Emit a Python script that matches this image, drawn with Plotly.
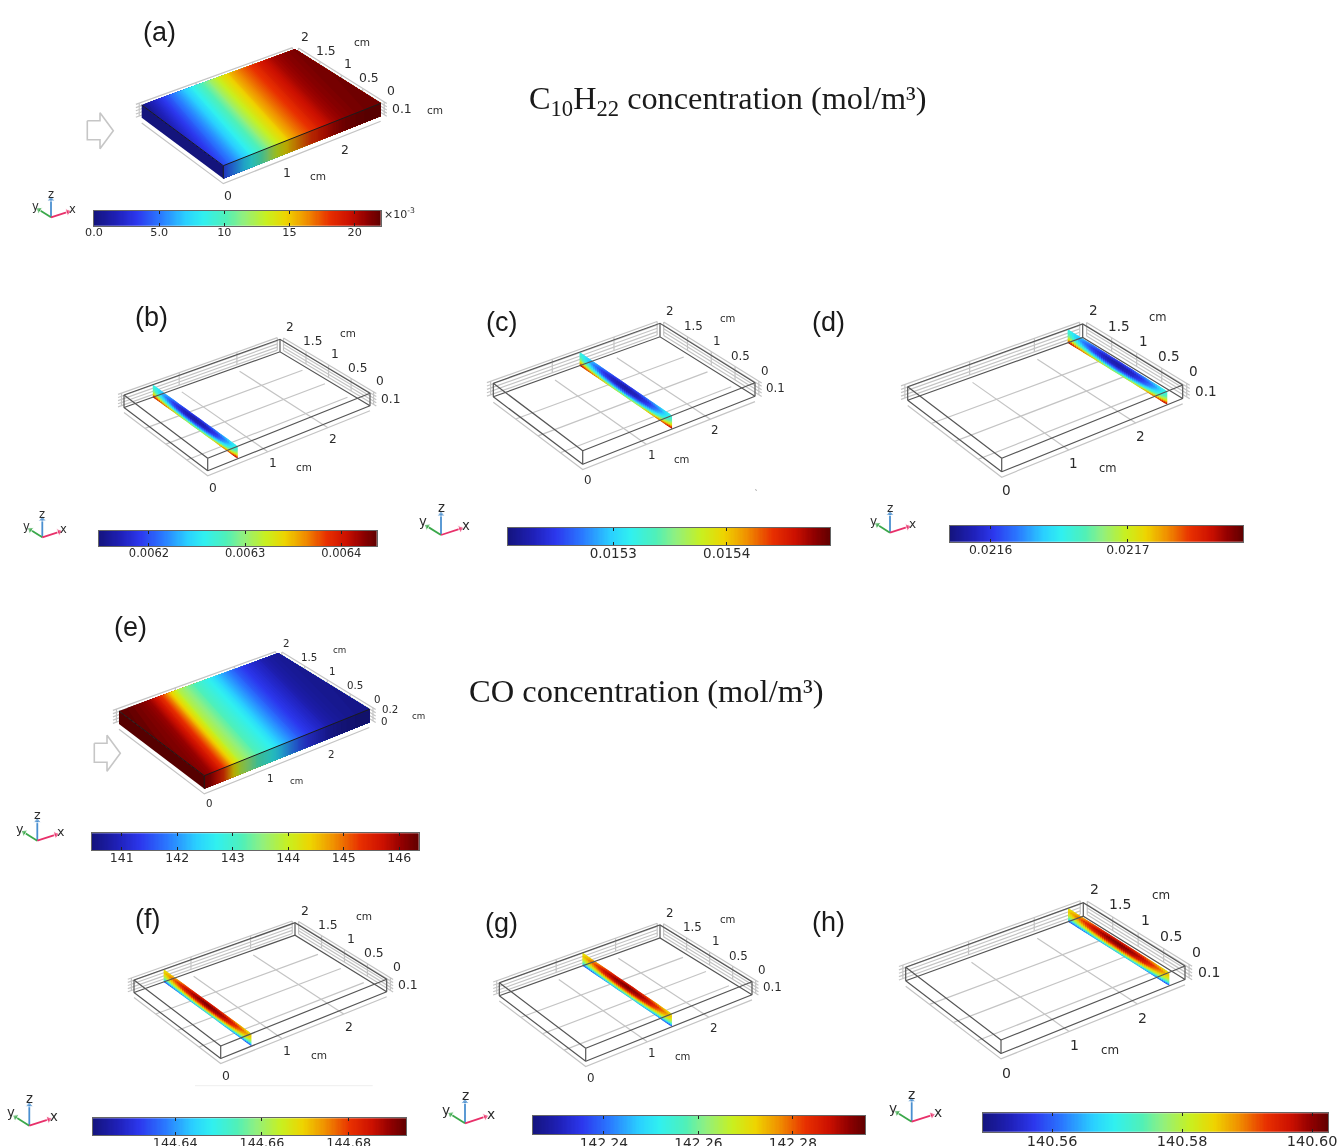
import numpy as np
import plotly.graph_objects as go

W, H = 1337, 1146

# ---------------------------- data ----------------------------
X_STATIONS = [0.0, 0.1, 0.2, 0.3, 0.4, 0.5, 0.6, 0.7, 0.8, 0.9, 1.0, 1.1, 1.2, 1.3,
              1.4, 1.5, 1.6, 1.7, 1.8, 1.9, 2.0, 2.1, 2.2, 2.3, 2.4, 2.5, 2.6, 2.7]
# surface concentration along x, read along the back edge (y=2) and the front edge (y=0)
C10H22_BACK = [.0004, .0011, .0020, .0029, .0038, .0047, .0056, .0066, .0076, .0086, .0097, .0108, .0119, .0130,
               .0141, .0150, .0159, .0167, .0174, .0181, .0187, .0193, .0199, .0205, .0209, .0212, .0214, .0216]
C10H22_FRONT = [.0038, .0047, .0056, .0066, .0076, .0086, .0097, .0108, .0119, .0130, .0141, .0150, .0159, .0167,
                .0174, .0181, .0187, .0193, .0199, .0205, .0209, .0212, .0214, .0216, .0217, .0218, .0219, .0219]
CO_BACK = [146.33, 146.30, 146.25, 146.20, 146.12, 146.00, 145.70, 145.35, 144.85, 144.25, 143.80, 143.55, 143.30, 143.10,
           142.90, 142.70, 142.45, 142.20, 141.95, 141.70, 141.50, 141.30, 141.15, 141.00, 140.88, 140.76, 140.68, 140.62]
CO_FRONT = [146.12, 146.00, 145.70, 145.35, 144.85, 144.25, 143.80, 143.55, 143.30, 143.10, 142.90, 142.70, 142.45, 142.20,
            141.95, 141.70, 141.50, 141.30, 141.15, 141.00, 140.88, 140.76, 140.68, 140.62, 140.58, 140.55, 140.53, 140.51]

SLICE_Y = [0, 0.25, 0.5, 0.75, 1, 1.25, 1.5, 1.75, 2]
SLICE_Z = [0.1, 0.075, 0.05, 0.025, 0.0]
# values as a fraction of each panel's colour range
C10H22_SLICE = [[.40, .32, .24, .18, .15, .18, .24, .32, .40],
                [.44, .26, .14, .08, .05, .08, .14, .26, .44],
                [.52, .33, .18, .10, .08, .10, .18, .33, .52],
                [.68, .50, .36, .28, .24, .28, .36, .50, .68],
                [.95, .82, .72, .62, .58, .62, .72, .82, .95]]
CO_SLICE = [[.62, .70, .78, .84, .86, .84, .78, .70, .62],
            [.68, .80, .90, .95, .98, .95, .90, .80, .68],
            [.60, .72, .84, .90, .92, .90, .84, .72, .60],
            [.46, .54, .62, .68, .70, .68, .62, .54, .46],
            [.14, .18, .24, .28, .30, .28, .24, .18, .14]]

X_TICKS = [0, 1, 2]
Y_TICKS = [0, 0.5, 1, 1.5, 2]
Y_TICK_TEXT = ["0", "0.5", "1", "1.5", "2"]

BAR_RANGE = {
    "a": (0.0, 0.022), "b": (0.0061477, 0.0064368), "c": (0.0152069, 0.0154911), "d": (0.0215704, 0.021784),
    "e": (140.465, 146.35), "f": (144.621, 144.6932), "g": (142.2249, 142.2953), "h": (140.5493, 140.6025),
}
BAR_TICKS = {
    "a": [0, 0.005, 0.010, 0.015, 0.020], "b": [0.0062, 0.0063, 0.0064], "c": [0.0153, 0.0154], "d": [0.0216, 0.0217],
    "e": [141, 142, 143, 144, 145, 146], "f": [144.64, 144.66, 144.68], "g": [142.24, 142.26, 142.28],
    "h": [140.56, 140.58, 140.60],
}
BAR_TEXT = {
    "a": ["0.0", "5.0", "10", "15", "20"], "b": ["0.0062", "0.0063", "0.0064"], "c": ["0.0153", "0.0154"],
    "d": ["0.0216", "0.0217"], "e": ["141", "142", "143", "144", "145", "146"],
    "f": ["144.64", "144.66", "144.68"], "g": ["142.24", "142.26", "142.28"], "h": ["140.56", "140.58", "140.60"],
}
SLICE_AT = {"b": 0.5, "c": 1.4, "d": 2.47, "f": 0.5, "g": 1.4, "h": 2.47}

# ---------------------------- layout / style ----------------------------
XLEN, YLEN, ZTOP = 2.7, 2.0, 0.1
STOPS = [(0, "#14147e"), (.08, "#1f20b8"), (.15, "#2c38ee"), (.23, "#2a78ff"), (.32, "#2ad0ff"), (.38, "#30f0f0"),
         (.46, "#50f0b8"), (.52, "#90f080"), (.60, "#c8f020"), (.67, "#eed400"), (.74, "#f09000"), (.82, "#e83000"),
         (.89, "#cc1000"), (.95, "#900000"), (1, "#600000")]
# corners of the slab's top face on the page (front, right, back, left) and slab height on the page
FRAME = {
    "a": ((223.3, 165.7), (380.7, 103.3), (295, 49.3), (141.7, 105), 12.8),
    "b": ((207.7, 458.3), (370, 393.3), (280, 339.3), (124, 395), 12.5),
    "c": ((582.7, 450.7), (755, 382.7), (660, 323.3), (493.3, 383.3), 13.5),
    "d": ((1001.7, 458.3), (1182.7, 385), (1082.7, 324), (907.7, 386.7), 13.5),
    "e": ((204.3, 775.7), (369.3, 709.3), (278.3, 653.3), (119, 711), 13),
    "f": ((220.7, 1046), (386.7, 979.3), (295, 922.7), (134, 980), 12.5),
    "g": ((585.7, 1048.3), (752, 981.7), (660, 925), (499.3, 982.7), 13),
    "h": ((1001, 1040), (1185, 966), (1083.3, 902.7), (905.7, 967.3), 13.5),
}
TICK_SIZE = {"a": 11.5, "b": 11.3, "c": 11, "d": 12.6, "e": 9.5, "f": 11.5, "g": 11, "h": 13}
TICK_BOOST = 1.08
BAR_BOX = {
    "a": (94, 380.7, 210.7, 225.7), "b": (98.7, 376.7, 530.7, 546), "c": (507.7, 830, 527.7, 545),
    "d": (950, 1243.3, 526, 541.7), "e": (92, 418.7, 833.3, 850), "f": (92.7, 406, 1118.3, 1135),
    "g": (532.7, 865, 1116, 1134), "h": (982.7, 1328.3, 1113.3, 1131.7),
}
BAR_FONT = {"a": 11.2, "b": 11.5, "c": 13.5, "d": 12.4, "e": 12.5, "f": 12.8, "g": 13.8, "h": 14.5}
TRIAD = {"a": (51, 217.3, 1), "b": (42.3, 537.3, 1), "c": (441, 535, 1.15), "d": (890, 532.7, 1.05),
         "e": (37.3, 840.7, 1.1), "f": (29.3, 1125.7, 1.15), "g": (465, 1123.3, 1.2), "h": (911.7, 1121.7, 1.2)}
LETTER_AT = {"a": (159, 32), "b": (151.7, 316.7), "c": (501.7, 321.7), "d": (828.3, 321.7),
             "e": (130.7, 626.7), "f": (147.7, 919.3), "g": (501, 922.7), "h": (828.3, 921.7)}
INLET_ARROW = {"a": (87.3, 130.7), "e": (94.3, 753.3)}
ARROW_SHAPE = [(0, -10), (12.7, -10), (12.7, -18), (26, 0), (12.7, 18), (12.7, 9), (0, 9), (0, -10)]
GREY, WIRE = "#c4c4c4", "#555555"
TXT = "#2b2b2b"
FONT = "DejaVu Sans"

stop_pos = np.array([s[0] for s in STOPS])
stop_rgb = np.array([[int(s[1][i:i + 2], 16) for i in (1, 3, 5)] for s in STOPS], float)


def colour(p, shade=1.0):
    p = round(float(np.clip(p, 0, 1)) * 128) / 128
    c = [np.interp(p, stop_pos, stop_rgb[:, i]) * shade for i in range(3)]
    return "#%02x%02x%02x" % tuple(int(round(v)) for v in c)


def project(k, x, y, z):
    F, R, B, L, dz = FRAME[k]
    u, v = x / XLEN, y / YLEN
    px = (1 - u) * (1 - v) * F[0] + u * (1 - v) * R[0] + u * v * B[0] + (1 - u) * v * L[0]
    py = (1 - u) * (1 - v) * F[1] + u * (1 - v) * R[1] + u * v * B[1] + (1 - u) * v * L[1]
    return px, py + (ZTOP - z) / ZTOP * dz


fig = go.Figure()
painted = []          # solid faces, painted in order from the inlet to the outlet
columns = []          # slice columns, painted in order along y, each with a vertical colour gradient
annotations = []


def poly_xy(pts):
    return [p[0] for p in pts] + [pts[0][0]], [p[1] for p in pts] + [pts[0][1]]


def add_lines(segs, color, width):
    xs, ys = [], []
    for seg in segs:
        for p in seg:
            xs.append(p[0])
            ys.append(p[1])
        xs.append(None)
        ys.append(None)
    fig.add_trace(go.Scatter(x=xs, y=ys, mode="lines", line=dict(color=color, width=width),
                             hoverinfo="skip", showlegend=False))


def text(x, y, s, size, family=FONT, color=TXT, xanchor="center"):
    annotations.append(dict(x=x, y=y, xref="x", yref="y", text=s, showarrow=False, xanchor=xanchor, yanchor="middle",
                            font=dict(family=family, size=size, color=color)))


grey_segs, wire_segs, dark_segs = [], [], []
for k in FRAME:
    P = lambda x, y, z, k=k: project(k, x, y, z)
    solid = k in ("a", "e")
    # floor grid, below the slab
    zf = -0.04
    grey_segs.append([P(0, YLEN, zf), P(0, 0, zf), P(XLEN, 0, zf)])
    if not solid:
        for xt in (1, 2):
            grey_segs.append([P(xt, 0, zf), P(xt, YLEN, zf)])
        for yt in (0.5, 1, 1.5):
            grey_segs.append([P(0, yt, zf), P(XLEN, yt, zf)])
    # back walls
    off = 0.06
    for z in (0, 0.025, 0.05, 0.075, 0.1):
        grey_segs.append([P(-off, YLEN + off, z), P(XLEN, YLEN + off, z), ])
        grey_segs.append([P(XLEN + off, YLEN, z), P(XLEN + off, -off, z)])
    for xt in (0, 1, 2, XLEN):
        grey_segs.append([P(xt, YLEN + off, 0), P(xt, YLEN + off, ZTOP)])
    for yt in (0, 0.5, 1, 1.5, 2):
        grey_segs.append([P(XLEN + off, yt, 0), P(XLEN + off, yt, ZTOP)])

    if solid:
        lo, hi = BAR_RANGE[k]
        back = np.array(C10H22_BACK if k == "a" else CO_BACK)
        front = np.array(C10H22_FRONT if k == "a" else CO_FRONT)
        sign = 1 if back[-1] > back[0] else -1      # make the profiles ascend along x
        b_s, f_s = sign * back, sign * front
        start, stop = min(b_s[0], f_s[0]), max(b_s[-1], f_s[-1])
        painted.append((colour((sign * start - lo) / (hi - lo), 0.9),
                        [P(0, 0, ZTOP), P(0, YLEN, ZTOP), P(0, YLEN, 0), P(0, 0, 0)]))
        for lev in np.linspace(start, stop, 120):
            frac = (sign * lev - lo) / (hi - lo)
            xf = float(np.interp(lev, f_s, X_STATIONS))
            xb = float(np.interp(lev, b_s, X_STATIONS))
            pts = []
            if lev < f_s[0]:      # iso-line meets the inlet edge, not the front edge
                w = (lev - f_s[0]) / (b_s[0] - f_s[0])
                pts += [(0, YLEN * w), (0, 0)]
            else:
                pts += [(xf, 0)]
            if lev <= f_s[-1]:
                pts += [(XLEN, 0)]
            if lev > b_s[-1]:     # iso-line meets the outlet edge, not the back edge
                w = (lev - f_s[-1]) / (b_s[-1] - f_s[-1])
                pts += [(XLEN, YLEN * w)]
            else:
                pts += [(XLEN, YLEN), (xb, YLEN)]
            painted.append((colour(frac), [P(a, b, ZTOP) for a, b in pts]))
            if lev <= f_s[-1]:
                painted.append((colour(frac, 0.78), [P(xf, 0, ZTOP), P(XLEN, 0, ZTOP), P(XLEN, 0, 0), P(xf, 0, 0)]))
        dark_segs.append([P(0, YLEN, ZTOP), P(0, 0, ZTOP), P(XLEN, 0, ZTOP)])
        dark_segs.append([P(0, 0, ZTOP), P(0, 0, 0)])
    else:
        field = np.array(C10H22_SLICE if k in "bcd" else CO_SLICE)
        xs = SLICE_AT[k]
        ny = 48
        ys_ = np.linspace(0, YLEN, ny + 1)
        depth = np.linspace(0, 1, 13)
        for a in range(ny):
            ym = (ys_[a] + ys_[a + 1]) / 2
            col_vals = [np.interp(ym, SLICE_Y, row) for row in field]
            y1 = min(YLEN, ys_[a] + 2 * (ys_[1] - ys_[0]))
            scale = [[float(d), colour(np.interp(d * ZTOP, [ZTOP - s for s in SLICE_Z], col_vals))] for d in depth]
            columns.append((scale, P(xs, ym, ZTOP)[1], P(xs, ym, 0)[1],
                            [P(xs, ys_[a], ZTOP), P(xs, y1, ZTOP), P(xs, y1, 0), P(xs, ys_[a], 0)]))
        for z in (0, ZTOP):
            wire_segs.append([P(0, 0, z), P(XLEN, 0, z), P(XLEN, YLEN, z), P(0, YLEN, z), P(0, 0, z)])
        for c in ((0, 0), (XLEN, 0), (XLEN, YLEN), (0, YLEN)):
            wire_segs.append([P(c[0], c[1], 0), P(c[0], c[1], ZTOP)])

    # tick labels on the slab axes
    sc = TICK_SIZE[k] / 11.5
    fs = TICK_SIZE[k] * TICK_BOOST
    for xt in X_TICKS:
        p = P(xt, 0, 0)
        text(p[0] + 5, p[1] + 17 * sc, str(xt), fs)
    p1 = P(1, 0, 0)
    text(p1[0] + 5 + 31.5 * sc, p1[1] + 17 * sc + 4 * sc, "cm", fs * 0.85)
    for yt, lab in zip(Y_TICKS, Y_TICK_TEXT):
        p = P(XLEN, yt, ZTOP)
        text(p[0] + 10 * sc, p[1] - 12.5 * sc, lab, fs)
    p15 = P(XLEN, 1.5, ZTOP)
    text(p15[0] + (10 + 36) * sc, p15[1] - (12.5 + 8) * sc, "cm", fs * 0.85)
    pr = P(XLEN, 0, ZTOP)
    if k == "e":
        text(pr[0] + 21, pr[1] - 0.6, "0.2", fs)
        text(pr[0] + 15, pr[1] + 11.7, "0", fs)
        text(pr[0] + 49, pr[1] + 6.7, "cm", fs * 0.85)
    else:
        text(pr[0] + 21 * sc, pr[1] + 5.5, "0.1", fs)
        if k == "a":
            text(pr[0] + 54, pr[1] + 6.7, "cm", fs * 0.85)

    # coordinate triad
    ox, oy, s = TRIAD[k]
    for dx, dy, col, lab, lx, ly in ((0, -18, "#4a8fd0", "z", 0, -23.5), (-12, -7.5, "#3aa84a", "y", -16, -11.5),
                                    (17, -5.5, "#e8306a", "x", 21.5, -8)):
        fig.add_trace(go.Scatter(x=[ox, ox + dx * s], y=[oy, oy + dy * s], mode="lines+markers",
                                 line=dict(color=col, width=1.8),
                                 marker=dict(symbol=["circle", "triangle-up"], size=[0, 7], color=col,
                                             angleref="previous"),
                                 hoverinfo="skip", showlegend=False))
        text(ox + lx * s, oy + ly * s, lab, 11.5 * s)

    text(LETTER_AT[k][0], LETTER_AT[k][1], f"({k})", 27, family="Liberation Sans", color="#1a1a1a")

add_lines(grey_segs, GREY, 1.2)
for col, pts in painted:
    xs, ys = poly_xy(pts)
    fig.add_trace(go.Scatter(x=xs, y=ys, mode="lines", fill="toself", fillcolor=col,
                             line=dict(color=col, width=0), hoverinfo="skip", showlegend=False))
for scale, y_top, y_bottom, pts in columns:
    xs, ys = poly_xy(pts)
    fig.add_trace(go.Scatter(x=xs, y=ys, mode="lines", fill="toself",
                             fillgradient=dict(type="vertical", colorscale=scale, start=y_top, stop=y_bottom),
                             line=dict(width=0), hoverinfo="skip", showlegend=False))
add_lines(wire_segs, WIRE, 1.2)
add_lines(dark_segs, "#1c1c1c", 1.0)

for k, (ax, ay) in INLET_ARROW.items():
    add_lines([[(ax + p[0], ay + p[1]) for p in ARROW_SHAPE]], "#c6c6c6", 1.6)

# stray faint marks in the picture: a rule under panel (f), a speck under panel (c)
add_lines([[(195, 1085.7), (372.7, 1085.7)]], "#eeeeee", 1)
add_lines([[(755.5, 489), (756.5, 491)]], "#b0b0b0", 1)

text(527, 100, "C<sub>10</sub>H<sub>22</sub> concentration (mol/m³)", 32.3, family="Liberation Serif",
     color="#1a1a1a", xanchor="left")
text(467, 691, "CO concentration (mol/m³)", 32.5, family="Liberation Serif", color="#1a1a1a", xanchor="left")
text(382, 213, "×10<sup>-3</sup>", 11, xanchor="left")

layout = dict(
    width=W, height=H, margin=dict(l=0, r=0, t=0, b=0, autoexpand=False), paper_bgcolor="white",
    plot_bgcolor="rgba(0,0,0,0)", showlegend=False,
    xaxis=dict(range=[0, W], domain=[0, 1], visible=False, fixedrange=True),
    yaxis=dict(range=[H, 0], domain=[0, 1], visible=False, fixedrange=True),
    annotations=annotations,
)

# colour bars: each one a real value axis
cscale = [[s[0], s[1]] for s in STOPS]
for i, k in enumerate(BAR_BOX):
    n = i + 2
    x0, x1, y0, y1 = BAR_BOX[k]
    lo, hi = BAR_RANGE[k]
    ramp = np.linspace(lo, hi, 257)
    fig.add_trace(go.Heatmap(x=ramp, y=[0, 1], z=[ramp, ramp], zmin=lo, zmax=hi, colorscale=cscale, showscale=False,
                             hoverinfo="skip", xaxis=f"x{n}", yaxis=f"y{n}"))
    layout[f"xaxis{n}"] = dict(domain=[x0 / W, x1 / W], range=[lo, hi], anchor=f"y{n}", tickvals=BAR_TICKS[k],
                               ticktext=BAR_TEXT[k], ticks="inside", ticklen=3, tickcolor="#222", tickwidth=1,
                               mirror="allticks", showline=True, linecolor="#666", linewidth=1, showgrid=False,
                               zeroline=False, fixedrange=True, ticklabeloverflow="allow", ticklabelstandoff=-4,
                               tickfont=dict(family=FONT, size=BAR_FONT[k], color=TXT))
    layout[f"yaxis{n}"] = dict(domain=[1 - y1 / H, 1 - y0 / H], range=[0, 1], anchor=f"x{n}", showticklabels=False,
                               ticks="", showline=True, mirror=True, linecolor="#666", linewidth=1, showgrid=False,
                               zeroline=False, fixedrange=True)
fig.update_layout(**layout)

fig.write_html("out.html", config=dict(displayModeBar=False),
               post_script="document.body.style.margin='0';document.body.style.overflow='hidden';"
                           "document.getElementById('{plot_id}').style.filter='blur(0.6px)';")
